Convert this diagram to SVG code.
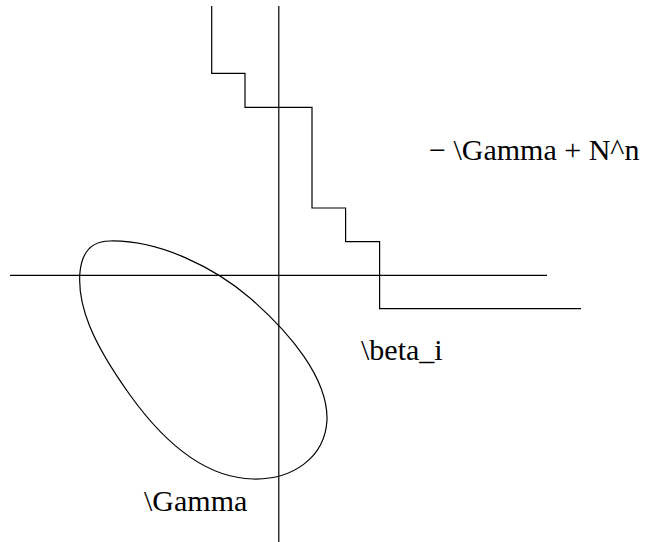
<svg xmlns="http://www.w3.org/2000/svg" width="646" height="542" viewBox="0 0 646 542">
<style>
.ln{fill:none;stroke:#000;stroke-width:1.2}
.lbl{font-family:"Liberation Serif","Times New Roman",serif;font-size:30px;fill:#000}
</style>
<rect width="646" height="542" fill="#fff"/>
<g id="connectors">
<line id="x-axis" class="ln" x1="10" y1="275.3" x2="547" y2="275.3"/>
<line id="y-axis" class="ln" x1="278.8" y1="6" x2="278.8" y2="542"/>
<path id="staircase" class="ln" d="M211.7,6 V73.3 H245 V107.3 H312 V208 H345.6 V241.7 H379.6 V308.7 H581"/>
<path id="gamma-curve" class="ln" d="M110,241 C160,240 215,268 250,298 C290,333 328,378 327,420 C325,458 292,480 253,479 C210,478 168,448 130,395 C92,342 77,305 80,272 C82,252 92,241 110,241 Z"/>
</g>
<g id="label-top"><text class="lbl" x="429" y="160">− \Gamma + N^n</text></g>
<g id="label-beta"><text class="lbl" x="361" y="360">\beta_i</text></g>
<g id="label-gamma"><text class="lbl" x="144" y="511">\Gamma</text></g>
</svg>
